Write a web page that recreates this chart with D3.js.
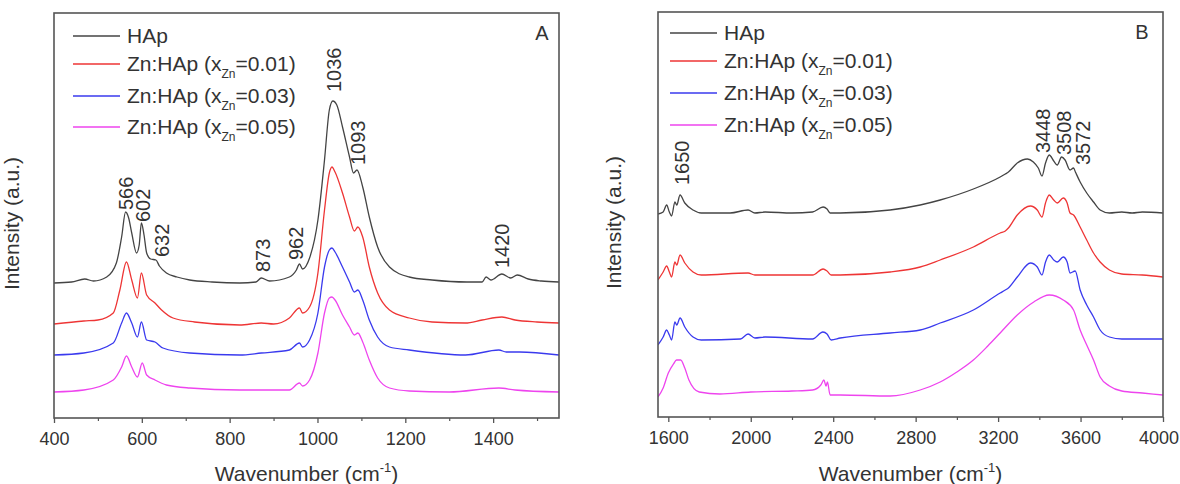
<!DOCTYPE html>
<html><head><meta charset="utf-8">
<script src="https://cdn.jsdelivr.net/npm/d3@7/dist/d3.min.js"></script>
<style>
body{margin:0;background:#fff}
text{font-family:"Liberation Sans",Arial,sans-serif;fill:#333}
</style>
</head><body>
<svg id="chart" width="1180" height="484"></svg>
<script>
// ---------------- data ----------------
const seriesNames = ["HAp", "0.01", "0.03", "0.05"];
const seriesColors = ["#444444", "#ee3535", "#3a3aee", "#ee44ee"];

// Panel A (400-1550 cm-1), stacked intensities (a.u.)
const hapA = [[400,135],[440,136],[470,139],[490,137],[520,141],[542,155],[554,181],[563,206],[570,200],[577,185],[588,165],[594,173],[599,195],[605,183],[611,165],[620,159],[632,158],[640,152],[656,145],[680,141],[709,138],[760,136],[823,135],[860,136],[872,140],[891,137],[936,141],[952,148],[959,154],[966,149],[982,160],[1001,198],[1016,258],[1027,308],[1035,317],[1044,313],[1057,291],[1073,261],[1082,245],[1090,248],[1103,231],[1118,201],[1137,171],[1164,151],[1209,141],[1261,138],[1340,136],[1375,136],[1384,141],[1395,138],[1420,144],[1440,140],[1455,143],[1480,139],[1510,137],[1550,136]];
const zn01A = [[400,94],[468,97],[500,98],[535,105],[550,128],[565,156],[577,138],[590,120],[599,145],[611,123],[630,115],[645,108],[671,100],[720,96],[823,93],[872,95],[900,94],[936,100],[959,110],[966,105],[982,111],[1001,145],[1016,208],[1027,245],[1033,251],[1040,246],[1057,225],[1073,201],[1084,187],[1092,191],[1103,181],[1118,151],[1137,125],[1164,108],[1209,100],[1261,96],[1337,95],[1375,98],[1420,101],[1450,98],[1500,96],[1550,95]];
const zn03A = [[400,63],[468,65],[535,75],[554,95],[565,105],[577,95],[590,81],[599,96],[611,78],[630,76],[648,70],[709,65],[823,63],[872,65],[936,68],[959,75],[966,71],[982,78],[1001,105],[1016,151],[1027,168],[1033,170],[1040,166],[1057,151],[1073,136],[1084,126],[1092,128],[1103,118],[1118,98],[1137,81],[1164,71],[1209,68],[1337,63],[1413,68],[1430,66],[1460,66],[1550,63]];
const zn05A = [[400,26],[468,28],[535,38],[554,51],[565,62],[577,51],[590,41],[601,55],[611,43],[630,38],[656,33],[709,30],[823,28],[936,28],[959,35],[966,32],[982,38],[1001,65],[1016,105],[1027,120],[1033,121],[1040,118],[1057,103],[1073,91],[1084,83],[1092,85],[1103,76],[1118,58],[1137,40],[1164,30],[1209,27],[1300,26],[1413,30],[1450,28],[1550,26]];

// Panel B (1550-4000 cm-1)
const hapB = [[1550,203],[1575,205],[1592,212],[1605,205],[1616,201],[1632,215],[1641,212],[1657,222],[1680,214],[1720,207],[1760,204],[1900,204],[1987,207],[2020,204],[2070,205],[2200,204],[2300,205],[2351,210],[2370,208],[2385,204],[2434,204],[2676,207],[2822,212],[2919,217],[3080,228],[3210,240],[3235,243],[3250,245],[3293,254],[3342,258],[3371,255],[3395,249],[3413,241],[3430,254],[3448,262],[3470,256],[3487,252],[3508,260],[3525,257],[3549,247],[3566,249],[3575,245],[3598,235],[3630,224],[3663,215],[3695,207],[3740,204],[3800,205],[3850,204],[3900,205],[4000,204]];
const zn01B = [[1550,137],[1575,145],[1592,151],[1605,145],[1616,140],[1632,155],[1641,152],[1657,162],[1680,154],[1720,145],[1760,142],[1987,144],[2020,142],[2300,142],[2351,148],[2370,146],[2390,142],[2434,142],[2676,145],[2822,150],[2919,157],[3080,170],[3210,184],[3235,186],[3250,189],[3293,202],[3357,211],[3390,207],[3413,200],[3430,214],[3448,222],[3470,217],[3487,214],[3516,219],[3535,214],[3549,204],[3566,202],[3598,190],[3630,177],[3663,164],[3695,155],[3740,147],[3800,143],[3900,142],[4000,140]];
const zn03B = [[1550,72],[1575,80],[1592,87],[1605,82],[1616,77],[1632,95],[1641,92],[1657,99],[1680,90],[1720,80],[1760,77],[1950,78],[1987,83],[2020,79],[2070,80],[2300,78],[2350,85],[2370,83],[2390,77],[2434,79],[2676,84],[2822,87],[2919,94],[3080,107],[3210,124],[3235,127],[3250,129],[3293,140],[3357,154],[3390,150],[3413,142],[3430,155],[3448,162],[3470,157],[3487,155],[3516,160],[3535,155],[3549,144],[3574,146],[3598,127],[3630,112],[3663,100],[3695,87],[3740,80],[3800,78],[4000,78]];
const zn05B = [[1550,20],[1575,29],[1600,44],[1625,53],[1640,57],[1660,57],[1680,49],[1700,37],[1750,25],[1850,23],[2000,25],[2200,26],[2300,27],[2340,32],[2355,37],[2365,31],[2372,35],[2385,22],[2434,22],[2676,21],[2822,27],[2919,35],[3000,45],[3080,57],[3150,71],[3210,84],[3293,102],[3373,115],[3448,122],[3516,117],[3566,107],[3598,87],[3630,72],[3663,57],[3695,40],[3740,31],[3800,26],[3900,24],[4000,22]];

// Peak labels: [text, x position (cm-1), label base (a.u.)]
const labelsA = [["566",563,208],["602",603,196],["632",645,161],["873",876,146],["962",950,158],["1036",1038,326],["1093",1093,253],["1420",1420,150]];
const labelsB = [["1650",1666,232],["3448",3419,264],["3508",3521,262],["3572",3613,252]];

// Axis ticks
const ticksA = [400,600,800,1000,1200,1400];
const minorA = [500,700,900,1100,1300,1500];
const ticksB = [1600,2000,2400,2800,3200,3600,4000];
const minorB = [1800,2200,2600,3000,3400,3800];

// ---------------- drawing ----------------
const W = 1180;
const svg = d3.select("#chart");

const panels = [
  {id:"A", xd:[400,1550], xr:[54,559], yr:[418,13], series:[hapA,zn01A,zn03A,zn05A], labels:labelsA,
   ticks:ticksA, minor:minorA, legX:73, legRows:[36,64,96,127], ylabX:12, letterX:542, letterY:33},
  {id:"B", xd:[1550,4000], xr:[658,1163], yr:[417,12], series:[hapB,zn01B,zn03B,zn05B], labels:labelsB,
   ticks:ticksB, minor:minorB, legX:670, legRows:[33,61,93,125], ylabX:614, letterX:1142, letterY:32}
];

panels.forEach(p => {
  const x = d3.scaleLinear().domain(p.xd).range(p.xr);
  const y = d3.scaleLinear().domain([0,405]).range(p.yr);
  const g = svg.append("g");
  const [x0,x1] = p.xr, [y1,y0] = p.yr;

  g.append("clipPath").attr("id","clip"+p.id).append("rect")
    .attr("x",x0).attr("y",y0).attr("width",x1-x0).attr("height",y1-y0);

  const line = d3.line().x(d=>x(d[0])).y(d=>y(d[1])).curve(d3.curveMonotoneX);
  p.series.forEach((s,i) => {
    g.append("path").attr("d", line(s)).attr("fill","none")
      .attr("stroke", seriesColors[i]).attr("stroke-width",1.3)
      .attr("clip-path","url(#clip"+p.id+")");
  });

  // frame
  g.append("rect").attr("x",x0).attr("y",y0).attr("width",x1-x0).attr("height",y1-y0)
    .attr("fill","none").attr("stroke","#555").attr("stroke-width",1.6);

  // axis
  const ax = g.append("g").attr("transform",`translate(0,${y1})`)
    .call(d3.axisBottom(x).tickValues(p.ticks).tickSize(5).tickSizeOuter(0).tickPadding(9).tickFormat(d3.format("d")));
  ax.select(".domain").remove();
  ax.selectAll("line").attr("stroke","#555").attr("stroke-width",1.3);
  ax.selectAll("text").attr("font-size",18).attr("font-family","Liberation Sans, Arial, sans-serif").attr("fill","#444");
  // keep edge label inside the picture
  ax.selectAll(".tick").each(function(){
    const t = d3.select(this).select("text");
    const bb = this.getBoundingClientRect();
    const tb = t.node().getBoundingClientRect();
    if (tb.right > W - 1) t.attr("dx", (W - 1 - tb.right));
  });
  const axm = g.append("g").attr("transform",`translate(0,${y1})`)
    .call(d3.axisBottom(x).tickValues(p.minor).tickSize(3).tickFormat(""));
  axm.select(".domain").remove();
  axm.selectAll("line").attr("stroke","#555").attr("stroke-width",1.2);

  // axis titles
  const xt = g.append("text").attr("x",(x0+x1)/2).attr("y",481).attr("text-anchor","middle")
    .attr("font-size",21);
  xt.append("tspan").text("Wavenumber (cm");
  xt.append("tspan").attr("font-size",13).attr("dy",-9).text("-1");
  xt.append("tspan").attr("dy",9).text(")");
  g.append("text").attr("transform",`translate(${p.ylabX},${(y0+y1)/2+8}) rotate(-90)`)
    .attr("text-anchor","middle").attr("dy","0.35em").attr("font-size",21).text("Intensity (a.u.)");

  // panel letter
  g.append("text").attr("x",p.letterX).attr("y",p.letterY).attr("dy","0.35em")
    .attr("text-anchor","middle").attr("font-size",20).text(p.id);

  // peak labels
  p.labels.forEach(l => {
    g.append("text").attr("transform",`translate(${x(l[1])},${y(l[2])}) rotate(-90)`)
      .attr("dy","0.35em").attr("font-size",20).text(l[0]);
  });

  // legend
  seriesNames.forEach((n,i) => {
    const ly = p.legRows[i];
    g.append("line").attr("x1",p.legX).attr("x2",p.legX+47).attr("y1",ly).attr("y2",ly)
      .attr("stroke",seriesColors[i]).attr("stroke-width",1.3);
    const t = g.append("text").attr("x",p.legX+54).attr("y",ly+7).attr("font-size",21);
    if (i===0) { t.text("HAp"); }
    else {
      t.append("tspan").text("Zn:HAp (x");
      t.append("tspan").attr("font-size",12).attr("dy",7).text("Zn");
      t.append("tspan").attr("dy",-7).text("=" + n + ")");
    }
  });
});
</script>
</body></html>
